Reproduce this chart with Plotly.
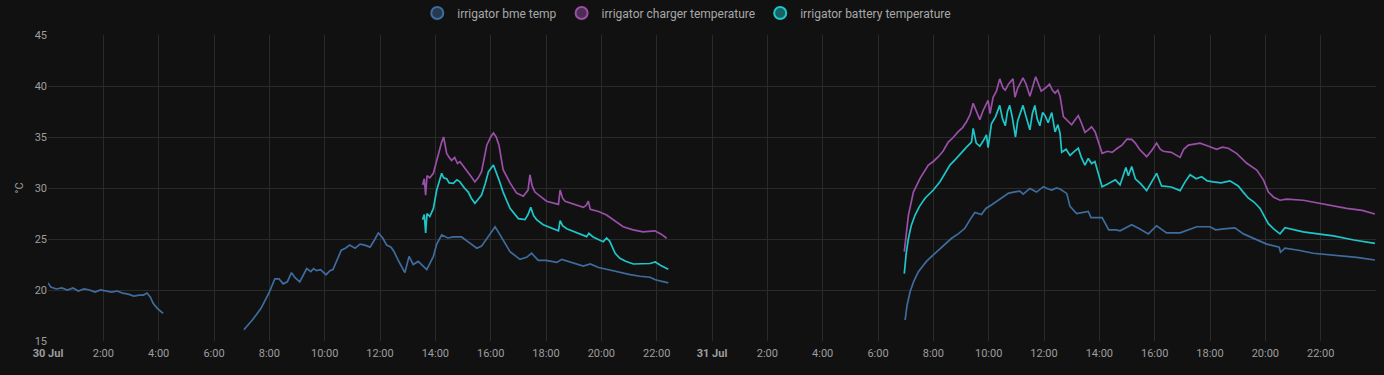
import pandas as pd
import plotly.graph_objects as go

# hours since 30 Jul 00:00 ; None marks a gap
bme_t = [0.0, 0.1, 0.3, 0.5, 0.7, 0.9, 1.1, 1.3, 1.5, 1.7, 1.9, 2.1, 2.3, 2.5, 2.7, 2.9, 3.1, 3.3, 3.45, 3.58, 3.7, 3.8, 3.95, 4.16,
         5.5,
         7.08, 7.4, 7.7, 8.0, 8.2, 8.35, 8.5, 8.65, 8.8, 8.93, 9.1, 9.35, 9.5, 9.6, 9.7, 9.85, 10.05, 10.19, 10.3, 10.45, 10.6, 10.75,
         10.9, 11.1, 11.28, 11.45, 11.64, 11.8, 11.94, 12.1, 12.24, 12.4, 12.5, 12.66, 12.9, 13.05, 13.2, 13.38, 13.5, 13.69, 13.93,
         14.05, 14.23, 14.45, 14.65, 14.95, 15.2, 15.5, 15.67, 15.9, 16.16, 16.34, 16.5, 16.7, 17.06, 17.3, 17.48, 17.72, 18.0, 18.39,
         18.57, 18.9, 19.35, 19.6, 19.9, 20.31, 20.7, 21.04, 21.4, 21.76, 21.95, 22.15, 22.42,
         26.0,
         30.98, 31.05, 31.16, 31.3, 31.46, 31.75, 32.06, 32.35, 32.66, 32.9, 33.14, 33.35, 33.5, 33.74, 33.9, 34.1, 34.4, 34.71, 34.9,
         35.13, 35.25, 35.49, 35.73, 35.98, 36.15, 36.28, 36.45, 36.58, 36.82, 36.94, 37.18, 37.4, 37.6, 37.7, 38.1, 38.34, 38.6, 38.75,
         39.17, 39.45, 39.77, 40.07, 40.43, 40.92, 41.2, 41.52, 42.0, 42.2, 42.5, 42.9, 43.21, 43.6, 44.05, 44.5, 44.55, 44.71, 45.2,
         45.73, 46.58, 47.3, 47.96]
bme_v = [20.7, 20.3, 20.1, 20.2, 20.0, 20.2, 19.9, 20.1, 20.0, 19.8, 20.0, 19.9, 19.8, 19.9, 19.7, 19.6, 19.4, 19.5, 19.5, 19.7, 19.3, 18.7, 18.2, 17.7,
         None,
         16.1, 17.1, 18.2, 19.8, 21.1, 21.1, 20.6, 20.8, 21.7, 21.2, 20.8, 22.1, 21.8, 22.1, 21.9, 22.0, 21.5, 21.9, 22.0, 23.0, 23.9, 24.1,
         24.4, 24.1, 24.5, 24.4, 24.2, 24.9, 25.6, 25.1, 24.4, 24.2, 23.8, 22.9, 21.7, 23.3, 22.5, 22.8, 22.5, 22.0, 23.3,
         24.5, 25.4, 25.1, 25.2, 25.2, 24.7, 24.1, 24.3, 25.2, 26.2, 25.4, 24.6, 23.75, 23.0, 23.2, 23.6, 22.9, 22.9, 22.7,
         23.0, 22.7, 22.35, 22.55, 22.2, 21.96, 21.7, 21.5, 21.35, 21.25, 21.0, 20.9, 20.7,
         None,
         17.06, 18.5, 19.83, 20.9, 21.8, 22.8, 23.6, 24.3, 25.07, 25.5, 26.05, 27.0, 27.6, 27.4, 28.0, 28.33, 28.9, 29.47, 29.6,
         29.7, 29.4, 29.96, 29.6, 30.13, 29.9, 29.8, 30.0, 29.9, 29.47, 28.2, 27.5, 27.6, 27.7, 27.1, 27.1, 25.9, 25.9, 25.8,
         26.4, 26.0, 25.5, 26.3, 25.6, 25.6, 25.9, 26.2, 26.2, 25.9, 26.0, 26.1, 25.5, 25.0, 24.5, 24.2, 23.7, 24.1, 23.9,
         23.6, 23.4, 23.2, 22.94]

chg_t = [13.54, 13.6, 13.65, 13.7, 13.8, 13.93, 14.05, 14.15, 14.23, 14.3, 14.41, 14.5, 14.59, 14.7, 14.8, 14.89, 15.05, 15.19, 15.3,
         15.43, 15.55, 15.67, 15.86, 16.0, 16.1, 16.2, 16.3, 16.45, 16.7, 16.94, 17.18, 17.35, 17.42, 17.5, 17.6, 18.02, 18.39, 18.45,
         18.51, 18.6, 18.69, 19.0, 19.35, 19.45, 19.53, 19.6, 19.9, 20.19, 20.5, 20.79, 21.15, 21.51, 21.93, 22.15, 22.36,
         26.0,
         30.95, 31.02, 31.1, 31.28, 31.52, 31.82, 32.0, 32.18, 32.35, 32.54, 32.7, 32.9, 33.05, 33.2, 33.33, 33.44, 33.55, 33.68, 33.8,
         33.98, 34.05, 34.16, 34.28, 34.4, 34.52, 34.6, 34.72, 34.88, 34.95, 35.05, 35.15, 35.24, 35.35, 35.49, 35.6, 35.7, 35.8, 35.9,
         36.05, 36.2, 36.3, 36.4, 36.5, 36.58, 36.7, 37.0, 37.1, 37.24, 37.35, 37.48, 37.6, 37.72, 37.85, 38.1, 38.3, 38.46, 38.65,
         38.82, 39.0, 39.17, 39.3, 39.45, 39.71, 39.9, 40.07, 40.2, 40.31, 40.6, 40.92, 41.05, 41.22, 41.64, 41.95, 42.24, 42.45, 42.66,
         42.96, 43.33, 43.69, 43.93, 44.11, 44.3, 44.53, 44.77, 45.37, 45.97, 46.5, 46.94, 47.5, 47.96]
chg_v = [30.3, 30.9, 29.3, 31.2, 31.0, 31.44, 32.7, 33.8, 34.5, 35.0, 33.4, 33.0, 32.7, 33.0, 32.4, 32.58, 32.0, 31.6, 31.1,
         30.6, 31.0, 31.6, 34.2, 35.0, 35.4, 35.0, 34.2, 31.8, 30.5, 29.5, 29.2, 29.8, 31.3, 30.2, 29.6, 28.7, 28.5, 28.4,
         29.8, 29.0, 28.7, 28.4, 28.1, 28.3, 28.7, 27.9, 27.7, 27.35, 26.8, 26.2, 25.9, 25.7, 25.8, 25.5, 25.07,
         None,
         23.76, 25.8, 27.35, 29.6, 30.95, 32.25, 32.6, 33.07, 33.6, 34.5, 34.9, 35.52, 35.9, 36.5, 37.2, 38.3, 37.5, 36.7, 37.6,
         38.6, 37.3, 38.9, 39.5, 40.7, 39.8, 39.6, 40.2, 40.7, 38.9, 39.8, 40.3, 40.8, 40.2, 39.0, 40.0, 40.9, 40.2, 39.5,
         39.8, 40.17, 39.6, 39.3, 39.6, 39.0, 37.0, 36.2, 36.6, 37.1, 36.4, 35.45, 35.7, 36.0, 35.5, 33.4, 33.6, 33.5, 33.9,
         34.2, 34.8, 34.77, 34.4, 33.8, 33.07, 33.7, 34.4, 33.8, 33.6, 33.5, 33.0, 33.8, 34.2, 34.4, 34.1, 33.8, 34.0, 33.9,
         33.4, 32.42, 31.76, 30.8, 29.6, 29.1, 28.8, 28.9, 28.8, 28.5, 28.2, 28.0, 27.8, 27.45]

bat_t = [13.54, 13.6, 13.65, 13.7, 13.8, 13.93, 14.05, 14.15, 14.23, 14.3, 14.41, 14.5, 14.65, 14.78, 14.89, 15.05, 15.19, 15.3,
         15.43, 15.55, 15.67, 15.8, 15.92, 16.1, 16.2, 16.3, 16.45, 16.7, 17.0, 17.24, 17.35, 17.45, 17.55, 17.66, 17.9, 18.14, 18.39,
         18.45, 18.51, 18.6, 18.75, 19.1, 19.47, 19.55, 19.7, 20.07, 20.19, 20.3, 20.37, 20.5, 20.67, 20.9, 21.16, 21.5, 21.76, 21.95,
         22.15, 22.42,
         26.0,
         30.95, 31.02, 31.1, 31.2, 31.34, 31.5, 31.7, 32.0, 32.24, 32.4, 32.6, 32.8, 33.02, 33.2, 33.38, 33.44, 33.55, 33.68, 33.8,
         33.92, 33.98, 34.1, 34.25, 34.4, 34.5, 34.6, 34.68, 34.76, 34.85, 34.97, 35.05, 35.12, 35.24, 35.35, 35.49, 35.58, 35.67,
         35.75, 35.85, 35.95, 36.04, 36.15, 36.28, 36.4, 36.5, 36.58, 36.64, 36.8, 36.94, 37.1, 37.24, 37.35, 37.48, 37.6, 37.72,
         37.84, 37.95, 38.1, 38.3, 38.58, 38.75, 38.96, 39.05, 39.17, 39.3, 39.5, 39.71, 39.9, 40.07, 40.25, 40.6, 40.92, 41.1,
         41.28, 41.5, 41.7, 41.9, 42.12, 42.4, 42.72, 43.02, 43.2, 43.39, 43.6, 43.81, 43.95, 44.11, 44.3, 44.53, 44.71, 45.0,
         45.37, 45.9, 46.46, 47.2, 47.96]
bat_v = [26.9, 27.4, 25.6, 27.5, 27.2, 28.0, 29.8, 30.8, 31.44, 31.0, 30.9, 30.5, 30.46, 30.8, 30.6, 30.0, 29.6, 29.0,
         28.5, 28.9, 29.3, 30.4, 31.6, 32.25, 31.6, 30.8, 29.6, 28.0, 27.0, 26.9, 27.4, 28.1, 27.3, 26.9, 26.4, 26.15, 25.9,
         25.8, 26.8, 26.3, 26.0, 25.6, 25.23, 25.55, 25.2, 24.74, 25.1, 24.8, 24.4, 23.6, 23.1, 22.8, 22.55, 22.6, 22.6, 22.75,
         22.4, 22.03,
         None,
         21.6, 23.6, 25.07, 26.3, 27.35, 28.2, 29.0, 29.8, 30.62, 31.4, 32.25, 32.8, 33.5, 34.0, 34.5, 35.85, 34.4, 34.1, 34.6,
         35.2, 33.95, 36.3, 37.0, 38.1, 36.8, 36.1, 37.5, 38.1, 37.0, 35.0, 36.6, 37.1, 38.1, 37.0, 35.7, 37.3, 38.1,
         36.8, 36.1, 37.4, 37.1, 36.4, 37.4, 35.5, 36.2, 35.36, 33.5, 33.8, 33.2, 33.6, 33.9, 33.0, 32.25, 32.9, 32.4,
         32.6, 31.6, 30.13, 30.4, 30.8, 30.3, 32.0, 31.2, 32.1, 30.9, 30.4, 29.74, 30.6, 31.44, 30.2, 30.1, 29.74, 30.6,
         31.3, 30.9, 31.1, 30.7, 30.6, 30.5, 30.7, 30.2, 29.6, 29.0, 28.6, 28.0, 27.3, 26.5, 26.0, 25.5, 26.1, 25.9,
         25.7, 25.5, 25.3, 24.9, 24.57]

names = ["irrigator bme temp", "irrigator charger temperature", "irrigator battery temperature"]
colors = ["#3f6c9f", "#9a4fa8", "#1fc6c9"]
fills = ["rgba(63,108,159,0.45)", "rgba(154,79,168,0.45)", "rgba(31,198,201,0.45)"]

start = pd.Timestamp("2024-07-30 00:00")


def to_dt(hours):
    return [start + pd.Timedelta(hours=h) for h in hours]


tick_hours = list(range(0, 48, 2))
tick_text = []
for h in tick_hours:
    if h == 0:
        tick_text.append("<b>30 Jul</b>")
    elif h == 24:
        tick_text.append("<b>31 Jul</b>")
    else:
        tick_text.append(f"{h % 24}:00")

fig = go.Figure()
series = [(bme_t, bme_v), (chg_t, chg_v), (bat_t, bat_v)]
for (t, v), c in zip(series, colors):
    fig.add_trace(go.Scatter(x=to_dt(t), y=v, mode="lines", line=dict(color=c, width=1.7),
                             showlegend=False, connectgaps=False, hoverinfo="skip"))
for n, c, f in zip(names, colors, fills):
    fig.add_trace(go.Scatter(x=[None], y=[None], mode="markers", name=n,
                             marker=dict(symbol="circle", size=13, color=f, line=dict(color=c, width=1.5))))

fig.update_layout(
    width=1384, height=375,
    paper_bgcolor="#111111", plot_bgcolor="#111111",
    margin=dict(l=48, r=8, t=35, b=34, autoexpand=False),
    font=dict(family="Roboto, sans-serif", color="#9e9e9e", size=11),
    legend=dict(orientation="h", x=0.481, xanchor="center", y=1.072, yanchor="middle",
                font=dict(size=12, color="#a8a8a8"), bgcolor="rgba(0,0,0,0)",
                itemsizing="constant", itemwidth=30),
    xaxis=dict(type="date", range=[start, start + pd.Timedelta(hours=48)],
               tickvals=to_dt(tick_hours), ticktext=tick_text,
               showgrid=True, gridcolor="#2a2a2a", gridwidth=1, zeroline=False,
               showline=False, ticks="", ticklabelstandoff=4,
               tickfont=dict(size=11, color="#9e9e9e")),
    yaxis=dict(range=[15, 45], dtick=5, tick0=15, showgrid=True, gridcolor="#2a2a2a",
               zeroline=False, showline=False, ticks="",
               title=dict(text="°C", font=dict(size=11, color="#9e9e9e"), standoff=8),
               tickfont=dict(size=11, color="#9e9e9e")),
)

fig.write_html("out.html", config={"displayModeBar": False},
               post_script="document.body.style.margin='0';document.body.style.background='#111111';")
